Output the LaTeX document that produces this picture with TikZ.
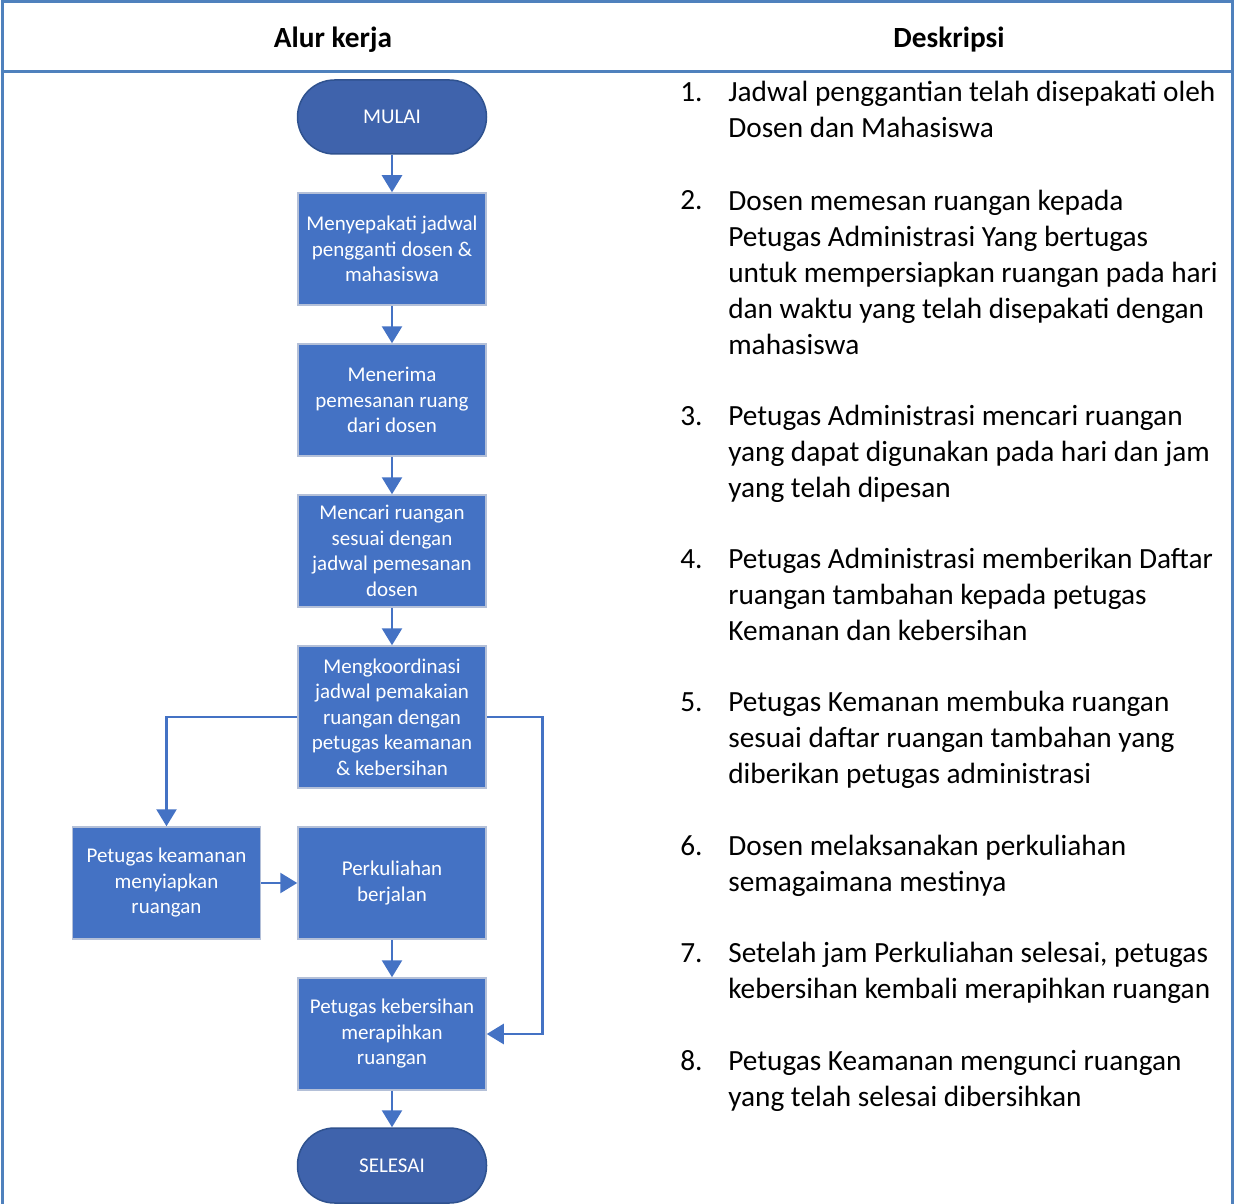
\documentclass[tikz,border=0pt]{standalone}
\usepackage{fontspec}
\setmainfont{Carlito}
\usetikzlibrary{positioning,arrows.meta}
\definecolor{fill1}{HTML}{4472C4}
\definecolor{fill2}{HTML}{3F63AC}
\definecolor{edge2}{HTML}{2F528F}
\definecolor{grid}{HTML}{4F81BD}
\definecolor{rim}{HTML}{B4C0D8}
\begin{document}
\begin{tikzpicture}[x=1pt,y=-1pt,-{Triangle[length=17pt,width=20pt]},node distance=37.5pt,
line width=2.6pt,draw=fill1,
main/.style = {draw=rim, line width=1.5pt, fill=fill1, text=white, minimum width=188pt, minimum height=112pt, align=center, inner sep=2pt, font=\fontsize{21}{25.5}\selectfont},
term/.style = {main, draw=edge2, fill=fill2, minimum width=189pt, minimum height=74pt, rounded corners=37pt},
desc/.style = {anchor=base west, align=left, inner sep=0pt, font=\fontsize{29.3}{36}\selectfont}]
    \useasboundingbox (0,0) rectangle (1235,1204);

    % header and table lines
    \draw[-, draw=grid, line width=3pt] (2,1204) -- (2,2) -- (1232,2) -- (1232,1204);
    \draw[-, draw=grid, line width=3pt] (2,72) -- (1232,72);
    \node[font=\fontsize{29.3}{36}\selectfont\bfseries] (h1) at (333,40) {Alur kerja};
    \node[font=\fontsize{29.3}{36}\selectfont\bfseries] (h2) at (949,40) {Deskripsi};

    % flowchart
    \node[term] (1) at (392,117) {MULAI};
    \node[main] (2) [below=of 1] {Menyepakati jadwal\\pengganti dosen \&\\mahasiswa};
    \node[main] (3) [below=of 2] {Menerima\\pemesanan ruang\\dari dosen};
    \node[main] (4) [below=of 3] {Mencari ruangan\\sesuai dengan\\jadwal pemesanan\\dosen};
    \node[main, minimum height=142pt] (5) [below=of 4] {Mengkoordinasi\\jadwal pemakaian\\ruangan dengan\\petugas keamanan\\\& kebersihan};
    \node[main] (7) [below=of 5] {Perkuliahan\\berjalan};
    \node[main] (6) [left=36pt of 7] {Petugas keamanan\\menyiapkan\\ruangan};
    \node[main] (8) [below=of 7] {Petugas kebersihan\\merapihkan\\ruangan};
    \node[term, minimum height=75pt] (9) [below=36.5pt of 8] {SELESAI};

    \draw (1) -- (2);
    \draw (2) -- (3);
    \draw (3) -- (4);
    \draw (4) -- (5);
    \draw (5.west) -| (6.north);
    \draw (5.east) -| ([xshift=56pt]8.east) -- (8.east);
    \draw (6) -- (7);
    \draw (7) -- (8);
    \draw (8) -- (9);

    % description list (base = last line)
    \foreach \n/\y in {1/102,2/210,3/425,4/568,5/711,6/855,7/962,8/1070}
        \node[desc] (n\n) at (679,\y) {\n.};
    \node[desc] (d1) at (727,138) {Jadwal penggantian telah disepakati oleh\\Dosen dan Mahasiswa};
    \node[desc] (d2) at (727,354) {Dosen memesan ruangan kepada\\Petugas Administrasi Yang bertugas\\untuk mempersiapkan ruangan pada hari\\dan waktu yang telah disepakati dengan\\mahasiswa};
    \node[desc] (d3) at (727,497) {Petugas Administrasi mencari ruangan\\yang dapat digunakan pada hari dan jam\\yang telah dipesan};
    \node[desc] (d4) at (727,640) {Petugas Administrasi memberikan Daftar\\ruangan tambahan kepada petugas\\Kemanan dan kebersihan};
    \node[desc] (d5) at (727,783) {Petugas Kemanan membuka ruangan\\sesuai daftar ruangan tambahan yang\\diberikan petugas administrasi};
    \node[desc] (d6) at (727,891) {Dosen melaksanakan perkuliahan\\semagaimana mestinya};
    \node[desc] (d7) at (727,998) {Setelah jam Perkuliahan selesai, petugas\\kebersihan kembali merapihkan ruangan};
    \node[desc] (d8) at (727,1106) {Petugas Keamanan mengunci ruangan\\yang telah selesai dibersihkan};
\end{tikzpicture}
\end{document}
